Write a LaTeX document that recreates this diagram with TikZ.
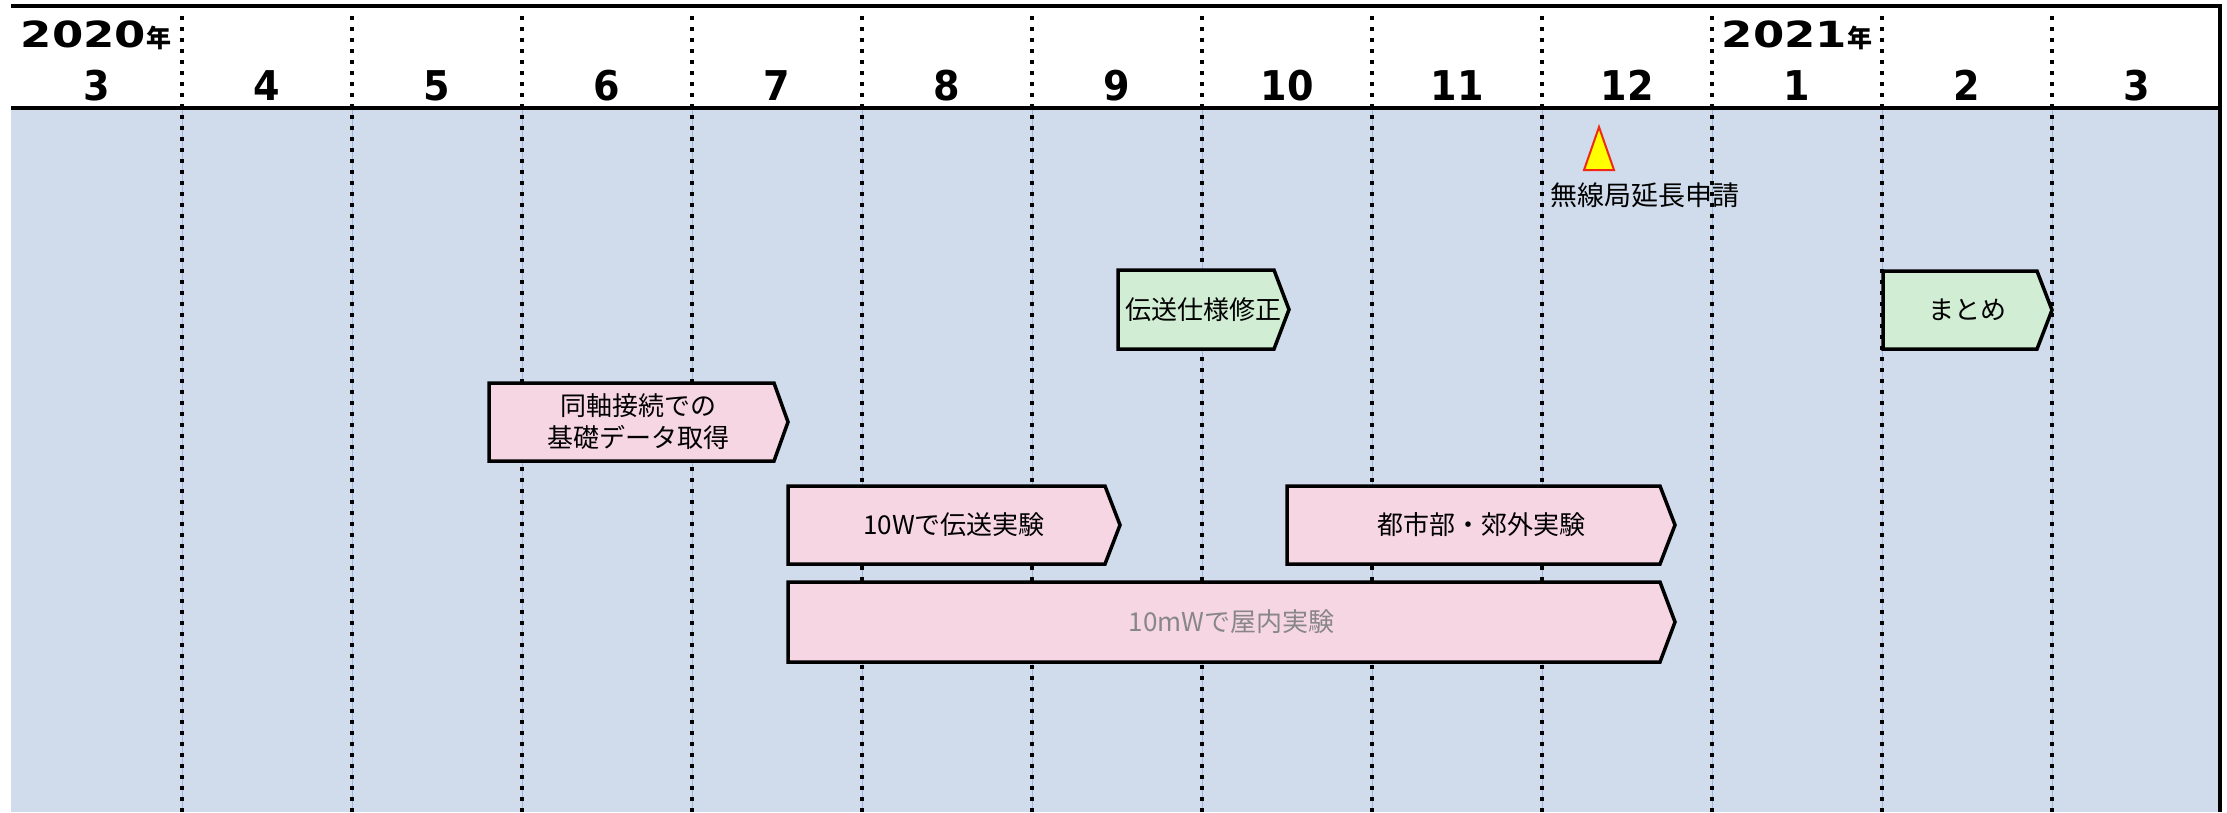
\documentclass[tikz,border=0pt]{standalone}
\usepackage{fontspec}
\setmainfont{DejaVu Sans}
\newfontfamily\cjk{Noto Sans CJK JP}
\definecolor{bodyblue}{RGB}{208,220,235}
\definecolor{gridblue}{RGB}{160,182,225}
\definecolor{taskpink}{RGB}{247,214,228}
\definecolor{taskgreen}{RGB}{209,237,211}
\definecolor{txtgray}{RGB}{135,135,135}
\definecolor{msred}{RGB}{240,40,20}
\definecolor{msyellow}{RGB}{255,255,0}
\tikzset{
  frameline/.style={line width=3.5pt, black},
  dotline/.style={line width=3.5pt, black, dash pattern=on 3.5pt off 7.5pt},
  gridthin/.style={line width=0.8pt, gridblue},
  hdryear/.style={font=\fontsize{36}{36}\selectfont\bfseries, anchor=base, inner sep=0pt},
  hdrmonth/.style={font=\fontsize{41}{41}\selectfont\bfseries, anchor=base, inner sep=0pt},
  taskpinkbox/.style={draw=black, line width=3.5pt, fill=taskpink, line join=miter},
  taskgreenbox/.style={draw=black, line width=3.5pt, fill=taskgreen, line join=miter},
  tasktext/.style={font=\cjk\fontsize{26}{32}\selectfont, align=center, inner sep=0pt, text=black},
  mstri/.style={draw=msred, line width=2pt, fill=msyellow, line join=miter},
  mstext/.style={font=\cjk\fontsize{27}{30}\selectfont, inner sep=0pt, text=black}
}
\newcommand\taskshape[8]{% style, name, left, rectend, tip, top, bottom, text
  \draw[#1] (#3,#6) -- (#4,#6) -- (#5,{(#6+#7)/2}) -- (#4,#7) -- (#3,#7) -- cycle;
  \node[tasktext] (#2) at ({(#3+#5)/2},{(#6+#7)/2}) {#8};}
\begin{document}
\begin{tikzpicture}[x=1pt,y=-1pt]
\useasboundingbox (0,0) rectangle (2227,812);
\fill[white] (0,0) rectangle (2227,812);
\fill[bodyblue] (11,108) rectangle (2220,812);
% grid
\foreach \k in {1,...,12}{
  \draw[gridthin] ({12+170*\k},108) -- ({12+170*\k},812);
  \draw[dotline] ({12+170*\k},16) -- ({12+170*\k},812);
}
% frame lines
\draw[frameline] (11,6) -- (2222,6);
\draw[frameline] (11,108) -- (2222,108);
\draw[frameline] (2220,6) -- (2220,812);
% header
\node[hdryear] (y2020) at (96,47) {\scalebox{1.25}[1]{2020}{\cjk\bfseries\fontsize{25}{25}\selectfont 年}};
\node[hdryear] (y2021) at (1797,47) {\scalebox{1.25}[1]{2021}{\cjk\bfseries\fontsize{25}{25}\selectfont 年}};
\foreach \m [count=\i from 0] in {3,4,5,6,7,8,9,10,11,12,1,2,3}{
  \node[hdrmonth] (m\i) at ({97+170*\i},100) {\scalebox{0.93}[1]{\m}};
}
% milestone
\draw[mstri] (1599,127) -- (1614,170) -- (1584,170) -- cycle;
\node[mstext] (ms) at (1645,195) {無線局延長申請};
% tasks
\taskshape{taskgreenbox}{t1}{1118}{1274}{1289}{270}{349}{伝送仕様修正}
\taskshape{taskgreenbox}{t2}{1883}{2037}{2052}{271}{349}{まとめ}
\taskshape{taskpinkbox}{t3}{489}{774}{788}{383}{461}{同軸接続での\\基礎データ取得}
\taskshape{taskpinkbox}{t4}{788}{1105}{1120}{486}{564}{10Wで伝送実験}
\taskshape{taskpinkbox}{t5}{1287}{1660}{1675}{486}{564}{都市部・郊外実験}
\taskshape{taskpinkbox}{t6}{788}{1660}{1675}{582}{662}{\textcolor{txtgray}{10mWで屋内実験}}
\end{tikzpicture}
\end{document}
